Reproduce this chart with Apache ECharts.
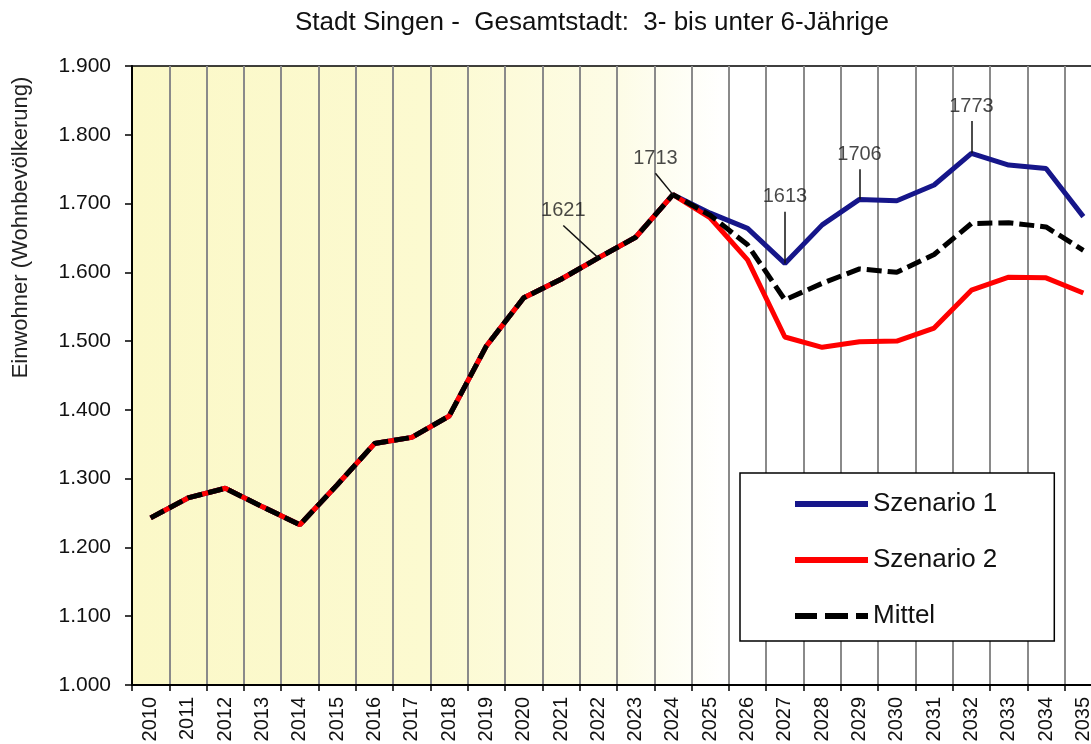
<!DOCTYPE html>
<html><head><meta charset="utf-8">
<script src="https://cdn.jsdelivr.net/npm/echarts@6/dist/echarts.min.js"></script>
<style>html,body{margin:0;padding:0;background:#fff}#c{width:1091px;height:744px}</style>
</head><body><div id="c"></div>
<script>
const years = ['2010','2011','2012','2013','2014','2015','2016','2017','2018','2019','2020','2021','2022','2023','2024','2025','2026','2027','2028','2029','2030','2031','2032','2033','2034','2035'];
const szenario1 = [1243,1272,1286,1259,1233,1291,1351,1360,1391,1493,1563,1590,1621,1651,1713,1686,1664,1613,1669,1706,1704,1727,1773,1756,1751,1681];
const szenario2 = [1243,1272,1286,1259,1233,1291,1351,1360,1391,1493,1563,1590,1621,1651,1713,1679,1618,1506,1491,1499,1500,1519,1574,1593,1592,1570];
const mittel    = [1243,1272,1286,1259,1233,1291,1351,1360,1391,1493,1563,1590,1621,1651,1713,1683,1640,1560,1584,1605,1600,1626,1671,1672,1666,1632];
const yTicks = [1000,1100,1200,1300,1400,1500,1600,1700,1800,1900];
// annotated points: series values, index, leader end (category-index units, value units)
const annotations = [
  {values: mittel,    idx: 12, endX: 11.06, endY: 1668},
  {values: mittel,    idx: 14, endX: 13.53, endY: 1744},
  {values: szenario1, idx: 17, endX: 17,    endY: 1688},
  {values: szenario1, idx: 19, endX: 19,    endY: 1750},
  {values: szenario1, idx: 22, endX: 22,    endY: 1820}
];

const FONT = '"Liberation Sans", Arial, sans-serif';
const ICON_SOLID = 'path://M0,0H73V6H0Z';
const ICON_DASH = 'path://M0,0H22V6H0Z M30,0H53V6H30Z M61,0H73V6H61Z';

const leaderData = annotations.map(a => ({coords: [[a.idx, a.values[a.idx]], [a.endX, a.endY]]}));
const labelData = annotations.map(a => [a.endX, a.endY, String(a.values[a.idx])]);

const chart = echarts.init(document.getElementById('c'));
chart.setOption({
  animation: false,
  backgroundColor: '#fff',
  title: {
    text: 'Stadt Singen -  Gesamtstadt:  3- bis unter 6-Jährige',
    left: 587, top: 5, textAlign: 'center',
    textStyle: {fontFamily: FONT, fontSize: 26, fontWeight: 'normal', color: '#111'}
  },
  grid: {
    left: 132, top: 66, bottom: 59, right: -11,
    outerBoundsMode: 'none', containLabel: false,
    show: true, borderColor: '#000', borderWidth: 1.5,
    backgroundColor: new echarts.graphic.LinearGradient(0, 0, 1, 0, [
      {offset: 0, color: '#fbf8c8'},
      {offset: 0.3, color: '#fcfad0'},
      {offset: 0.5, color: '#fdfce6'},
      {offset: 0.61, color: '#ffffff'},
      {offset: 1, color: '#ffffff'}
    ])
  },
  legend: {
    orient: 'vertical', left: 740, top: 473,
    backgroundColor: '#fff', borderColor: '#000', borderWidth: 1.5,
    padding: [18, 57, 12, 55], itemGap: 30,
    itemWidth: 73, itemHeight: 6,
    textStyle: {fontFamily: FONT, fontSize: 26, color: '#111'},
    data: [
      {name: 'Szenario 1', icon: ICON_SOLID},
      {name: 'Szenario 2', icon: ICON_SOLID},
      {name: 'Mittel', icon: ICON_DASH}
    ]
  },
  xAxis: [{
    type: 'category', data: years, boundaryGap: true,
    axisLine: {onZero: false, lineStyle: {color: '#000', width: 2}},
    axisTick: {show: true, length: 6, lineStyle: {color: '#000', width: 1.5}},
    axisLabel: {rotate: 90, margin: 12, fontFamily: FONT, fontSize: 20, color: '#111', interval: 0},
    splitLine: {show: true, interval: 0, lineStyle: {color: '#8a8a8a', width: 2}}
  }, {
    type: 'value', min: -0.5, max: years.length - 0.5, show: false,
    axisLine: {show: false, onZero: false}, splitLine: {show: false}
  }],
  yAxis: {
    type: 'value', min: 1000, max: 1900, interval: 100,
    name: 'Einwohner (Wohnbevölkerung)', nameLocation: 'middle', nameGap: 100,
    nameTextStyle: {fontFamily: FONT, fontSize: 22, color: '#222', padding: [0, 0, 0, 296]},
    axisLine: {show: true, onZero: false, lineStyle: {color: '#000', width: 2}},
    axisTick: {show: true, length: 7, lineStyle: {color: '#000', width: 1.5}},
    axisLabel: {margin: 21, fontFamily: FONT, fontSize: 21, color: '#111',
      formatter: v => yTicks.indexOf(v) >= 0 ? (v / 1000).toFixed(3) : ''},
    splitLine: {show: false}
  },
  series: [
    {
      name: 'Szenario 1', type: 'line', data: szenario1, symbol: 'none',
      lineStyle: {color: '#16168a', width: 5}, itemStyle: {color: '#16168a'}
    },
    {
      name: 'Szenario 2', type: 'line', data: szenario2, symbol: 'none',
      lineStyle: {color: '#ff0000', width: 5}, itemStyle: {color: '#ff0000'}
    },
    {
      name: 'Mittel', type: 'line', data: mittel, symbol: 'none',
      lineStyle: {color: '#000', width: 5, type: [15, 6]}, itemStyle: {color: '#000'}
    },
    {
      name: 'leaders', type: 'lines', coordinateSystem: 'cartesian2d', xAxisIndex: 1, yAxisIndex: 0,
      data: leaderData, symbol: 'none', z: 5,
      lineStyle: {color: '#111', width: 1.5, opacity: 1}
    },
    {
      name: 'annotations', type: 'scatter', xAxisIndex: 1, yAxisIndex: 0,
      data: labelData, symbolSize: 0, z: 5,
      label: {show: true, position: 'top', distance: 5, fontFamily: FONT, fontSize: 20, color: '#1a1a1a',
        formatter: p => p.value[2]}
    }
  ]
});
</script>
</body></html>
